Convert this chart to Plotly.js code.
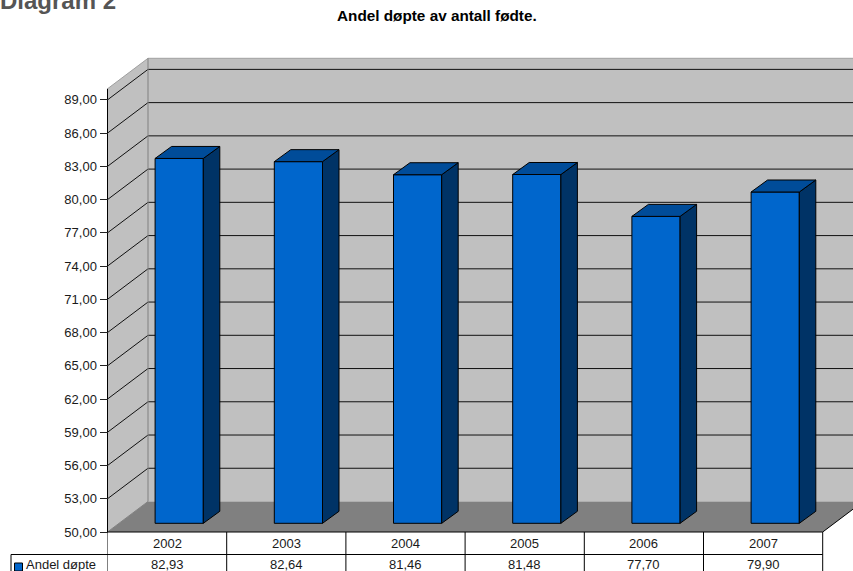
<!DOCTYPE html>
<html><head><meta charset="utf-8">
<script src="https://cdn.plot.ly/plotly-3.0.1.min.js"></script>
<style>html,body{margin:0;padding:0;background:#fff;overflow:hidden}#c{width:853px;height:571px}</style>
</head><body><div id="c"></div>
<script>
// Data
const categories = ['2002','2003','2004','2005','2006','2007'];
const values = [82.93,82.64,81.46,81.48,77.70,79.90];
const seriesName = 'Andel døpte';
const tickValues = [50,53,56,59,62,65,68,71,74,77,80,83,86,89];
const chartTitle = 'Andel døpte av antall fødte.';
const pageTitle = 'Diagram 2';

// Geometry (pixels -> axis units)
const W=853,H=571,FONT='"Liberation Sans", Arial, sans-serif';
const pxPerCat=119.2, pxPerUnit=11.08, left=107.5, base=532;
const xU=p=>p/pxPerCat, yU=p=>p/pxPerUnit;
const rx=[-xU(left), xU(W-left)], ry=[50-yU(H-base), 50+yU(base)];
const DX=xU(40.5), DY=yU(30.5), YMAX=90, N=categories.length;
const barDX=xU(12.1), barDY=yU(8.7), bw=48.2/pxPerCat, dDX=xU(16.5), dDY=yU(12);

const traces=[];
const poly=(xs,ys,fill,line,ax)=>traces.push({type:'scatter',mode:'lines',x:xs,y:ys,
  fill:fill?'toself':'none',fillcolor:fill||undefined,
  line:{color:line||fill,width:line?1:0},hoverinfo:'skip',showlegend:false,
  xaxis:ax?'x2':'x',yaxis:ax?'y2':'y'});
// walls and floor
poly([DX,N+DX,N+DX,DX,DX],[50+DY,50+DY,YMAX+DY,YMAX+DY,50+DY],'#c0c0c0');
poly([0,DX,DX,0,0],[50,50+DY,YMAX+DY,YMAX,50],'#c0c0c0');
poly([0,N,N+DX,DX,0],[50,50,50+DY,50+DY,50],'#808080');
// gridlines
tickValues.filter(v=>v>50).forEach(v=>{
  poly([0,DX,N+DX],[v,v+DY,v+DY],null,'#111111');
});
// wall edges
poly([0,DX,N+DX],[YMAX,YMAX+DY,YMAX+DY],null,'#a0a0a0');
poly([DX,DX],[50+DY,YMAX+DY],null,'#808080');
poly([0,DX],[50,50+DY],null,'#808080');
poly([0,0],[50,YMAX],null,'#000000');
poly([N,N+DX],[50,50+DY],null,'#000000');
// table
const rowY=50-yU(22.5);
poly([0,0],[ry[0],50],null,'#808080');
poly([0,N],[50,50],null,'#000000');
poly([-xU(96.5),N],[rowY,rowY],null,'#000000');
poly([-xU(96.5),-xU(96.5)],[ry[0],rowY],null,'#000000');
for(let i=1;i<=N;i++) poly([i,i],[ry[0],50],null,'#000000');
// legend key
traces.push({type:'scatter',mode:'markers',x:[-xU(89)],y:[50-yU(35)],
  marker:{symbol:'square',size:8,color:'#0066cc',line:{color:'#000',width:1}},
  hoverinfo:'skip',showlegend:false});
// bars in their own depth plane
const centers=categories.map((c,i)=>i+0.5);
traces.push({type:'bar',x:centers,y:values.map(v=>v-50),base:50,width:bw,xaxis:'x2',yaxis:'y2',
  marker:{color:'#0066cc',line:{color:'#000',width:1}},hoverinfo:'skip',showlegend:false});
values.forEach((v,i)=>{
  const a=centers[i]-bw/2,b=centers[i]+bw/2;
  poly([b,b+dDX,b+dDX,b,b],[50,50+dDY,v+dDY,v,50],'#003366','#000000',true);
  poly([a,b,b+dDX,a+dDX,a],[v,v,v+dDY,v+dDY,v],'#004c99','#000000',true);
});

const fmt=v=>v.toFixed(2).replace('.',',');
const textColor='#1a1a1a';
const ann=[];
const cell=(x,py,text,anchor)=>ann.push({xref:'x',yref:'paper',x:x,y:1-py/H,text:text,showarrow:false,
  xanchor:anchor||'center',yanchor:'middle',font:{family:FONT,size:13,color:textColor}});
categories.forEach((c,i)=>{cell(i+0.5,543,c);cell(i+0.5,564,fmt(values[i]));});
cell(-xU(84),564,seriesName,'left');
ann.push({xref:'paper',yref:'paper',x:437/W,y:1-15.5/H,text:'<b>'+chartTitle+'</b>',showarrow:false,
  xanchor:'center',yanchor:'middle',font:{family:FONT,size:15.3,color:'#000'}});
ann.push({xref:'paper',yref:'paper',x:-2/W,y:1-0/H,text:'<b>'+pageTitle+'</b>',showarrow:false,
  xanchor:'left',yanchor:'middle',font:{family:FONT,size:24,color:'#555555'}});

const layout={width:W,height:H,margin:{l:0,r:0,t:0,b:0,pad:0},paper_bgcolor:'#fff',plot_bgcolor:'#fff',
  separators:',.',showlegend:false,barmode:'overlay',annotations:ann,
  xaxis:{range:rx,visible:false,fixedrange:true},
  yaxis:{range:ry,anchor:'free',position:left/W,showgrid:false,zeroline:false,showline:false,
    tickmode:'array',tickvals:tickValues,tickformat:'.2f',ticks:'outside',ticklen:8,tickwidth:1,tickcolor:'#222',
    tickfont:{family:FONT,size:13,color:textColor},automargin:false,fixedrange:true},
  xaxis2:{range:[rx[0]-barDX,rx[1]-barDX],overlaying:'x',visible:false,fixedrange:true},
  yaxis2:{range:[ry[0]-barDY,ry[1]-barDY],overlaying:'y',visible:false,fixedrange:true}
};
Plotly.newPlot('c',traces,layout,{displayModeBar:false,staticPlot:true});
</script></body></html>
